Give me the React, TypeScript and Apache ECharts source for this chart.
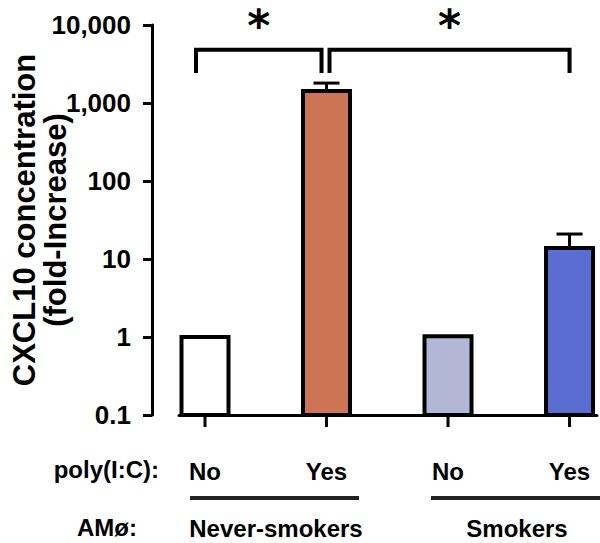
import React, { useEffect, useRef } from "react";
import * as echarts from "echarts";

// ---- data ----
const conditions = ["No", "Yes", "No", "Yes"];
const groups = ["Never-smokers", "Smokers"];
const foldIncrease = [1, 1425, 1.02, 13.8];
const errorUpper = [null, 1800, null, 20.9];
const barColors = ["#FFFFFF", "#CC7453", "#B2B7D6", "#5A6DD0"];
const comparisons = [
  [0, 1],
  [1, 3],
];
const bracketTopValue = 4800;
const bracketLegValue = 2430;
const yMin = 0.1;
const yMax = 10000;

const FONT = "'Liberation Sans', Arial, Helvetica, sans-serif";

export default function App() {
  const ref = useRef<HTMLDivElement>(null);

  useEffect(() => {
    if (!ref.current) return;
    const chart = echarts.init(ref.current, null, { renderer: "svg" });

    const barData = foldIncrease.map((v, i) => [i, v]);
    const errData = foldIncrease
      .map((v, i) => [i, v, errorUpper[i]])
      .filter((d) => d[2] != null);
    const tickData = conditions.map((c, i) => [i, yMin, c]);
    const bracketData = comparisons.map((c, i) => [c[0], c[1], i]);

    const option: any = {
      animation: false,
      backgroundColor: "#fff",
      grid: { left: 179, right: 3, top: 25, bottom: 128, containLabel: false, outerBoundsMode: "none" },
      xAxis: {
        type: "value",
        min: -0.214,
        max: 3.226,
        axisLine: { show: true, onZero: false, lineStyle: { color: "#000", width: 3 } },
        axisTick: { show: false },
        axisLabel: { show: false },
        splitLine: { show: false },
      },
      yAxis: {
        type: "log",
        logBase: 10,
        min: yMin,
        max: yMax,
        offset: 27,
        axisLine: { show: true, onZero: false, lineStyle: { color: "#000", width: 3 } },
        axisTick: { show: true, length: 9, lineStyle: { color: "#000", width: 3 } },
        axisLabel: {
          margin: 21,
          color: "#000",
          fontSize: 26,
          fontWeight: "bold",
          fontFamily: FONT,
          formatter: (v: number) => {
            const r = Math.round(v * 10) / 10;
            return r >= 1000 ? r.toLocaleString("en-US") : String(r);
          },
        },
        splitLine: { show: false },
        minorTick: { show: false },
        name: "CXCL10 concentration\n(fold-Increase)",
        nameLocation: "middle",
        nameGap: 81,
        nameMoveOverlap: false,
        nameRotate: 90,
        nameTextStyle: {
          color: "#000",
          fontSize: 31,
          fontWeight: "bold",
          fontFamily: FONT,
          lineHeight: 31,
        },
      },
      series: [
        {
          type: "custom",
          name: "bars",
          data: barData,
          renderItem: (params: any, api: any) => {
            const i = api.value(0);
            const top = api.coord([i, api.value(1)]);
            const base = api.coord([i, yMin]);
            return {
              type: "rect",
              shape: { x: top[0] - 23.5, y: top[1], width: 47, height: base[1] - top[1] },
              style: { fill: barColors[params.dataIndex], stroke: "#000", lineWidth: 4 },
            };
          },
          z: 3,
        },
        {
          type: "custom",
          name: "errors",
          data: errData,
          renderItem: (params: any, api: any) => {
            const i = api.value(0);
            const top = api.coord([i, api.value(1)]);
            const cap = api.coord([i, api.value(2)]);
            return {
              type: "group",
              children: [
                { type: "line", shape: { x1: top[0], y1: top[1] - 2, x2: cap[0], y2: cap[1] }, style: { stroke: "#000", lineWidth: 3 } },
                { type: "line", shape: { x1: cap[0] - 13, y1: cap[1], x2: cap[0] + 13, y2: cap[1] }, style: { stroke: "#000", lineWidth: 3 } },
              ],
            };
          },
          z: 2,
        },
        {
          type: "custom",
          name: "xticks",
          data: tickData,
          renderItem: (params: any, api: any) => {
            const i = api.value(0);
            const p = api.coord([i, yMin]);
            return {
              type: "group",
              children: [
                { type: "line", shape: { x1: p[0], y1: p[1] + 1, x2: p[0], y2: p[1] + 12 }, style: { stroke: "#000", lineWidth: 3 } },
                {
                  type: "text",
                  style: {
                    text: conditions[params.dataIndex],
                    x: p[0],
                    y: p[1] + 56,
                    align: "center",
                    verticalAlign: "middle",
                    fontSize: 24,
                    fontWeight: "bold",
                    fontFamily: FONT,
                    fill: "#000",
                  },
                },
              ],
            };
          },
          z: 4,
        },
        {
          type: "custom",
          name: "brackets",
          data: bracketData,
          renderItem: (params: any, api: any) => {
            const a = api.value(0);
            const b = api.value(1);
            const k = params.dataIndex;
            const offA = k === 0 ? -9 : 3;
            const offB = k === 0 ? -5 : 0;
            const pa = api.coord([a, bracketTopValue]);
            const pb = api.coord([b, bracketTopValue]);
            const la = api.coord([a, bracketLegValue]);
            const xa = pa[0] + offA;
            const xb = pb[0] + offB;
            return {
              type: "group",
              children: [
                {
                  type: "polyline",
                  shape: { points: [[xa, la[1]], [xa, pa[1]], [xb, pa[1]], [xb, la[1]]] },
                  style: { stroke: "#000", lineWidth: 4, fill: null },
                },
                {
                  type: "text",
                  style: {
                    text: "*",
                    x: (xa + xb) / 2,
                    y: pa[1] - 46,
                    align: "center",
                    verticalAlign: "top",
                    fontSize: 44,
                    fontWeight: "bold",
                    fontFamily: "'DejaVu Sans', sans-serif",
                    fill: "#000",
                  },
                },
              ],
            };
          },
          z: 4,
        },
      ],
      graphic: [
        { type: "text", right: 600 - 159, top: 457, style: { text: "poly(I:C):", fontSize: 24, fontWeight: "bold", fontFamily: FONT, fill: "#000" } },
        { type: "text", right: 600 - 137, top: 515, style: { text: "AMø:", fontSize: 24, fontWeight: "bold", fontFamily: FONT, fill: "#000" } },
        { type: "line", shape: { x1: 190, y1: 498, x2: 359, y2: 498 }, style: { stroke: "#222", lineWidth: 4 } },
        { type: "line", shape: { x1: 431, y1: 498, x2: 600, y2: 498 }, style: { stroke: "#222", lineWidth: 4 } },
        { type: "text", x: 276, y: 528, style: { text: groups[0], align: "center", verticalAlign: "middle", fontSize: 24, fontWeight: "bold", fontFamily: FONT, fill: "#000" } },
        { type: "text", x: 517, y: 528, style: { text: groups[1], align: "center", verticalAlign: "middle", fontSize: 24, fontWeight: "bold", fontFamily: FONT, fill: "#000" } },
      ],
    };

    chart.setOption(option);
    return () => chart.dispose();
  }, []);

  return <div ref={ref} style={{ width: 600, height: 543, position: "absolute", left: 0, top: 0 }} />;
}
